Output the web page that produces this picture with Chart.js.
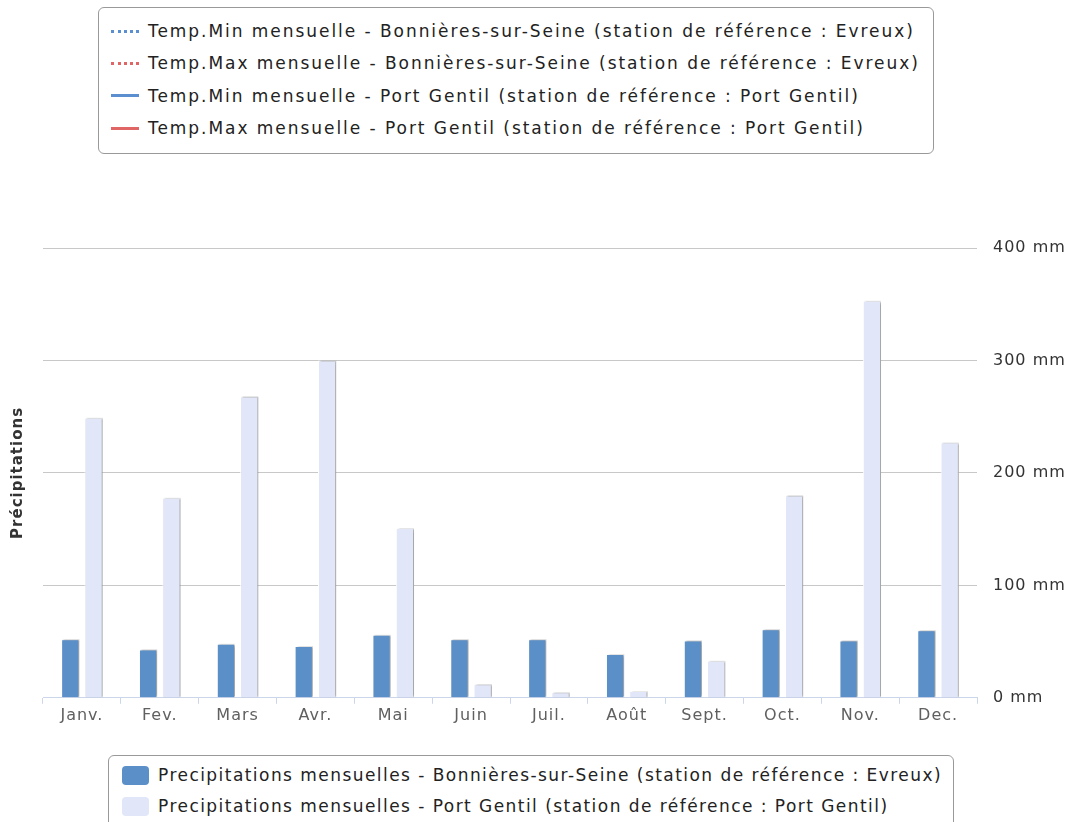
<!DOCTYPE html>
<html>
<head>
<meta charset="utf-8">
<script src="https://cdn.jsdelivr.net/npm/chart.js@4"></script>
<style>
  body { margin:0; background:#fff; font-family:"DejaVu Sans", sans-serif; }
  #wrap { position:relative; width:1074px; height:822px; overflow:hidden; }
  #chart { position:absolute; left:0; top:0; }
  .legend { position:absolute; border:1px solid #999; border-radius:6px; background:#fff; color:#222; font-size:17px; line-height:20px; }
  .legend .item { position:absolute; white-space:nowrap; }
  .sym { position:absolute; }
</style>
</head>
<body>
<div id="wrap">
  <canvas id="chart" width="1074" height="822"></canvas>
  <div id="legTop" class="legend" style="left:98px;top:7px;width:834px;height:145px;letter-spacing:1.95px;"></div>
  <div id="legBottom" class="legend" style="left:108px;top:755px;width:844px;height:90px;letter-spacing:1.45px;"></div>
</div>
<script>
const months = ['Janv.','Fev.','Mars','Avr.','Mai','Juin','Juil.','Août','Sept.','Oct.','Nov.','Dec.'];
const precipBonnieres = [52,43,48,46,56,52,52,39,51,61,51,60];
const precipPortGentil = [249,178,268,300,151,12,5,6,33,180,353,227];
const yTicks = [0,100,200,300,400];

const lineLegend = [
  { label:'Temp.Min mensuelle - Bonnières-sur-Seine (station de référence : Evreux)', color:'#5b8fd0', dash:true },
  { label:'Temp.Max mensuelle - Bonnières-sur-Seine (station de référence : Evreux)', color:'#e06666', dash:true },
  { label:'Temp.Min mensuelle - Port Gentil (station de référence : Port Gentil)', color:'#5b8fd0', dash:false },
  { label:'Temp.Max mensuelle - Port Gentil (station de référence : Port Gentil)', color:'#e06666', dash:false }
];
const barLegend = [
  { label:'Precipitations mensuelles - Bonnières-sur-Seine (station de référence : Evreux)', color:'#5b8fc7' },
  { label:'Precipitations mensuelles - Port Gentil (station de référence : Port Gentil)', color:'#e1e6f8' }
];

// legends as html
const legTop = document.getElementById('legTop');
lineLegend.forEach((l,i)=>{
  const cy = 23 + i*32.4;
  const s = document.createElement('div');
  s.className = 'sym';
  s.style.cssText = `left:12px;top:${cy-1.5}px;width:28px;height:0;border-top:3px ${l.dash?'dotted':'solid'} ${l.color};`;
  legTop.appendChild(s);
  const t = document.createElement('div');
  t.className = 'item';
  t.style.cssText = `left:49px;top:${cy-10}px;`;
  t.textContent = l.label;
  legTop.appendChild(t);
});
const legBot = document.getElementById('legBottom');
barLegend.forEach((l,i)=>{
  const cy = 19 + i*31;
  const s = document.createElement('div');
  s.className = 'sym';
  s.style.cssText = `left:13px;top:${cy-9.5}px;width:27px;height:19px;border-radius:4px;background:${l.color};`;
  legBot.appendChild(s);
  const t = document.createElement('div');
  t.className = 'item';
  t.style.cssText = `left:49px;top:${cy-10}px;`;
  t.textContent = l.label;
  legBot.appendChild(t);
});

// canvas resize resets ctx state, so set tracking before layout and draw
const tracking = {
  id:'tracking',
  beforeUpdate(chart){ chart.ctx.letterSpacing = '1px'; },
  beforeDraw(chart){ chart.ctx.letterSpacing = '1px'; }
};
const shadow = {
  id:'shadow',
  beforeDatasetsDraw(chart){ const c=chart.ctx; c.save(); c.shadowColor='rgba(0,0,0,0.35)'; c.shadowOffsetX=2; c.shadowOffsetY=0; c.shadowBlur=2; },
  afterDatasetsDraw(chart){ chart.ctx.restore(); }
};

new Chart(document.getElementById('chart'), {
  type:'bar',
  data:{
    labels: months,
    datasets:[
      { label:barLegend[0].label, data:precipBonnieres, backgroundColor:barLegend[0].color, borderColor:'#fff', borderWidth:1, yAxisID:'y' },
      { label:barLegend[1].label, data:precipPortGentil, backgroundColor:barLegend[1].color, borderColor:'#fff', borderWidth:1, yAxisID:'y' }
    ]
  },
  options:{
    responsive:false,
    animation:false,
    categoryPercentage:0.6,
    barPercentage:0.78,
    layout:{ padding:{ top:248, bottom:95, left:1, right:0 } },
    plugins:{ legend:{display:false}, tooltip:{enabled:false} },
    scales:{
      x:{
        grid:{ drawOnChartArea:false, drawTicks:true, tickLength:6, color:'#ccd6eb', offset:true },
        border:{ color:'#ccd6eb' },
        ticks:{ color:'#606060', font:{ family:'DejaVu Sans', size:16 }, padding:2 }
      },
      y:{
        position:'right', min:0, max:400,
        afterBuildTicks(ax){ ax.ticks = yTicks.map(v=>({value:v})); },
        afterFit(ax){ ax.width = 97; },
        grid:{ color:'#c8c8c8', drawTicks:false },
        border:{ display:false },
        ticks:{ color:'#333', font:{ family:'DejaVu Sans', size:16 }, padding:16, callback:v=>v+' mm' }
      },
      yL:{
        position:'left', min:0, max:400,
        grid:{ display:false }, border:{ display:false },
        ticks:{ display:false },
        title:{ display:true, text:'Précipitations', color:'#333', font:{ family:'DejaVu Sans', size:15, weight:'bold' }, padding:{ top:8, bottom:8 } }
      }
    }
  },
  plugins:[tracking, shadow]
});
</script>
</body>
</html>
